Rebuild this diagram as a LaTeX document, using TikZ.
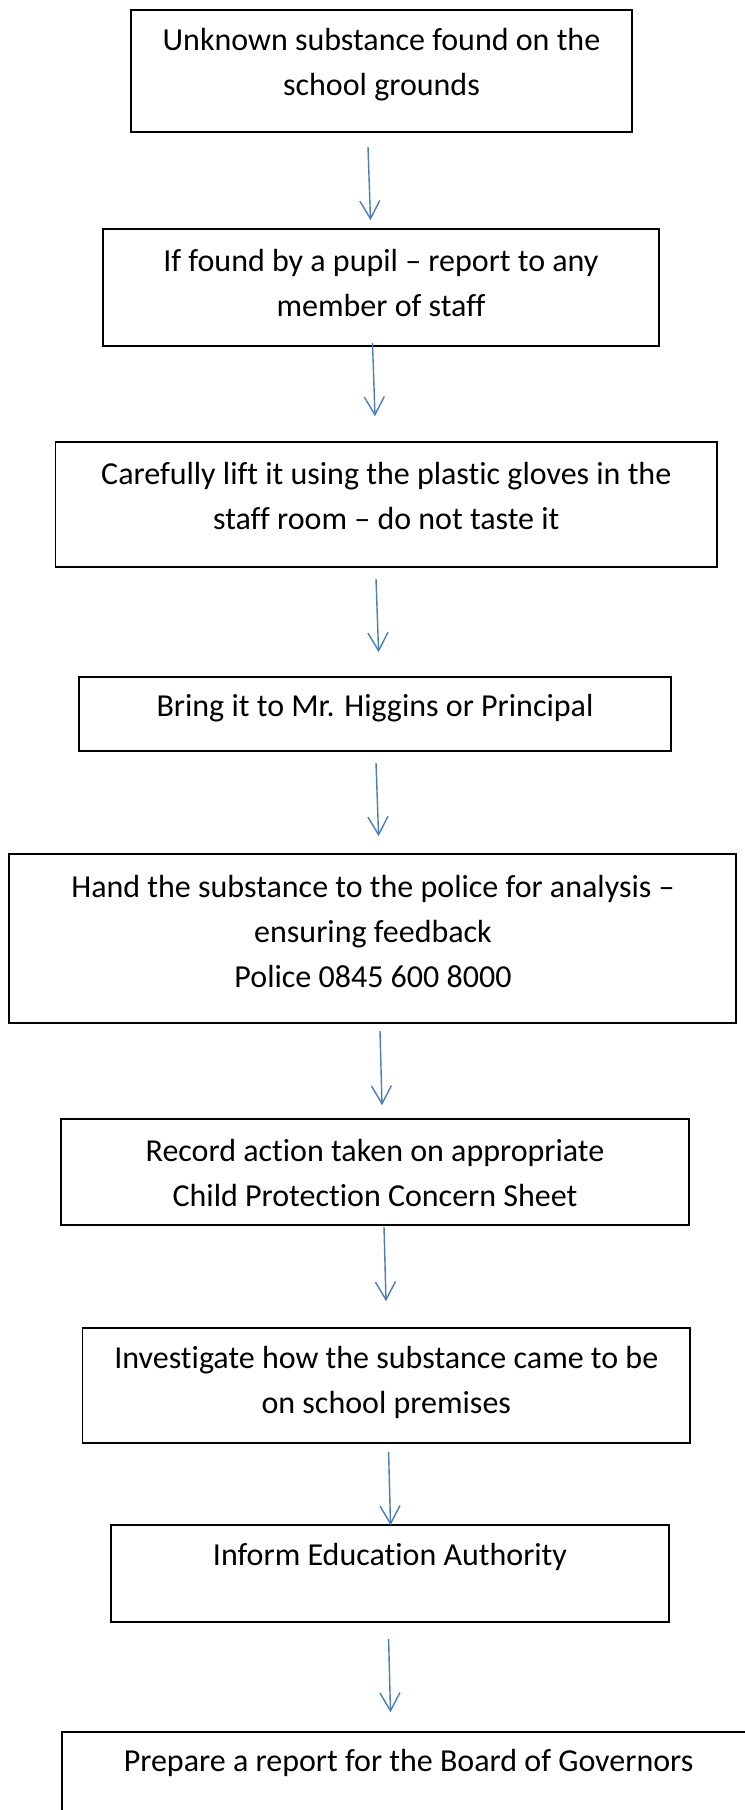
\documentclass[tikz,border=0pt]{standalone}
\usepackage{fontspec}
\setmainfont{Carlito}[Ligatures={TeX,NoCommon}]
\usetikzlibrary{arrows.meta,calc}

\definecolor{flowblue}{RGB}{74,126,187}

\tikzset{every picture/.style={line width=0.75pt}}
\tikzset{
  stepbox/.style={draw=black,line width=1.2pt,rectangle,inner sep=0pt},
  steptext/.style={inner sep=0pt,align=center,font=\fontsize{24}{33.75}\selectfont},
  flow/.style={draw=flowblue,line width=1.05pt,-{Straight Barb[length=13.5pt,width=15pt,line width=1.05pt]}}
}

\begin{document}
\begin{tikzpicture}[x=0.75pt,y=0.75pt,yscale=-1,xscale=1]
  \useasboundingbox (0,0) rectangle (745,1810);
  \clip (0,0) rectangle (745,1810);
  % boxes
  \node [stepbox,minimum width=375.75pt,minimum height=91.5pt] (b1) at (381.5,71) {};
  \node [stepbox,minimum width=417pt,minimum height=87.75pt] (b2) at (381,287.5) {};
  \node [stepbox,minimum width=496pt,minimum height=93.75pt] (b3) at (386.3,504.5) {};
  \node [stepbox,minimum width=444pt,minimum height=55.5pt] (b4) at (375,714) {};
  \node [stepbox,minimum width=545.25pt,minimum height=126.75pt] (b5) at (372.5,938.5) {};
  \node [stepbox,minimum width=471pt,minimum height=79.5pt] (b6) at (375,1172) {};
  \node [stepbox,minimum width=455.5pt,minimum height=86.25pt] (b7) at (386.3,1385.5) {};
  \node [stepbox,minimum width=418.5pt,minimum height=72.75pt] (b8) at (390,1573.5) {};
  \node [stepbox,minimum width=519.75pt,minimum height=75pt] (b9) at (408.5,1782) {};
  % texts
  \node [steptext] (t1) at (381.5,64.5) {Unknown substance found on the\\school grounds};
  \node [steptext] (t2) at (381,283.5) {If found by a pupil – report to any\\member of staff};
  \node [steptext] (t3) at (386.3,495.5) {Carefully lift it using the plastic gloves in the\\staff room – do not taste it};
  \node [steptext] (t4) at (375,708) {Bring it to Mr. Higgins or Principal};
  \node [steptext] (t5) at (373,931) {Hand the substance to the police for analysis –\\ensuring feedback\\Police 0845 600 8000};
  \node [steptext] (t6) at (375,1172.5) {Record action taken on appropriate\\Child Protection Concern Sheet};
  \node [steptext] (t7) at (386.3,1382.5) {Investigate how the substance came to be\\on school premises};
  \node [steptext] (t8) at (390,1557) {Inform Education Authority};
  \node [steptext] (t9) at (408.5,1763) {Prepare a report for the Board of Governors};
  % arrows
  \draw [flow] ($(b1.south)+(-13.5,14)$) -- ($(b2.north)+(-10.5,-8)$);
  \draw [flow] ($(b2.south)+(-8.5,-4)$) -- ($(b3.north)+(-11.3,-25)$);
  \draw [flow] ($(b3.south)+(-10.3,11)$) -- ($(b4.north)+(3.6,-24)$);
  \draw [flow] ($(b4.south)+(1,11)$) -- ($(b5.north)+(6.1,-17)$);
  \draw [flow] ($(b5.south)+(7.5,7)$) -- ($(b6.north)+(7,-13)$);
  \draw [flow] ($(b6.south)+(9,1)$) -- ($(b7.north)+(-0.3,-26)$);
  \draw [flow] ($(b7.south)+(2.3,8)$) -- ($(b8.north)+(0.5,1)$);
  \draw [flow] ($(b8.south)+(-1.4,16)$) -- ($(b9.north)+(-18,-19)$);
\end{tikzpicture}
\end{document}
